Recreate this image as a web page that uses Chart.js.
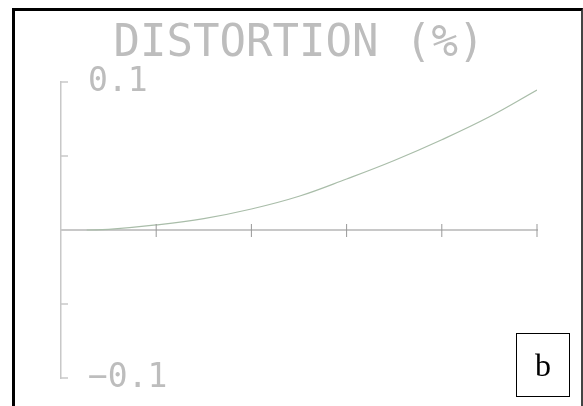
<!DOCTYPE html>
<html>
<head>
<meta charset="utf-8">
<script src="https://cdn.jsdelivr.net/npm/chart.js@4.4.1/dist/chart.umd.min.js"></script>
<style>
  html, body { margin: 0; padding: 0; background: #fff; overflow: hidden; }
  #wrap { position: relative; width: 583px; height: 406px; }
  #frame {
    position: absolute; left: 12px; top: 8px; width: 566px; height: 420px;
    border-left: 3px solid #000; border-top: 3px solid #000; border-right: 2px solid #444;
  }
  #tag {
    position: absolute; left: 516px; top: 333px; width: 52px; height: 62px;
    border: 1.5px solid #000; display: flex; align-items: center; justify-content: center;
    font-family: "Liberation Serif", "Times New Roman", serif; font-size: 32px; color: #000;
  }
  canvas { position: absolute; left: 0; top: 0; }
</style>
</head>
<body>
<div id="wrap">
  <canvas id="myChart" width="583" height="406"></canvas>
  <div id="frame"></div>
  <div id="tag">b</div>
</div>
<script>
// values
const xValues = [0.27, 0.5, 1, 1.5, 2, 2.5, 3, 3.5, 4, 4.5, 5];
const distortion = [0, 0.0004, 0.0034, 0.0077, 0.0142, 0.0228, 0.0345, 0.047, 0.061, 0.0765, 0.0946];
const yTickLabels = ["\u22120.1", "", "", "", "0.1"];
const titleText = "DISTORTION (%)";

const axisGray = "#c8c8c8";
const textGray = "#bdbdbd";
const monoFont = "'DejaVu Sans Mono', 'Liberation Mono', monospace";

// short tick marks: inside the y axis, crossing the x axis
const tickMarks = {
  id: "tickMarks",
  afterDraw(chart) {
    const ctx = chart.ctx;
    const xs = chart.scales.x, ys = chart.scales.y;
    const x0 = ys.right, y0 = ys.getPixelForValue(0);
    ctx.save();
    ctx.lineWidth = 1.5;
    ctx.strokeStyle = axisGray;
    ys.ticks.forEach(t => {
      const py = ys.getPixelForValue(t.value);
      ctx.beginPath();
      ctx.moveTo(x0, py);
      ctx.lineTo(x0 + 7, py);
      ctx.stroke();
    });
    ctx.lineWidth = 1;
    ctx.strokeStyle = "#999";
    xs.ticks.forEach(t => {
      if (t.value === 0) return;
      const px = xs.getPixelForValue(t.value);
      ctx.beginPath();
      ctx.moveTo(px, y0 - 6);
      ctx.lineTo(px, y0 + 7);
      ctx.stroke();
    });
    ctx.restore();
  }
};

new Chart(document.getElementById("myChart").getContext("2d"), {
  type: "line",
  data: {
    datasets: [{
      data: xValues.map((x, i) => ({ x: x, y: distortion[i] })),
      borderColor: "#a9bda9",
      borderWidth: 1.2,
      pointRadius: 0,
      tension: 0.4,
      fill: false
    }]
  },
  options: {
    responsive: false,
    animation: false,
    layout: { padding: { left: 61, right: 46, top: 10, bottom: 28 } },
    plugins: {
      legend: { display: false },
      tooltip: { enabled: false },
      title: {
        display: true,
        text: titleText,
        color: textGray,
        font: { family: monoFont, size: 44, weight: "normal", lineHeight: 1.2 },
        padding: { top: 8, bottom: 11.2 }
      }
    },
    scales: {
      x: {
        type: "linear",
        min: 0,
        max: 5,
        position: { y: 0 },
        ticks: { display: false, stepSize: 1 },
        grid: { display: false },
        border: { display: true, color: axisGray, width: 2 },
        afterFit(scale) { scale.height = 0; }
      },
      y: {
        min: -0.1,
        max: 0.1,
        ticks: {
          stepSize: 0.05,
          mirror: true,
          padding: 27,
          color: textGray,
          font: { family: monoFont, size: 33 },
          callback: (v, i) => yTickLabels[i]
        },
        grid: { display: false, drawTicks: false },
        border: { display: true, color: axisGray, width: 1.5 },
        afterFit(scale) {
          scale.width = 0;
          scale.paddingTop = 0;
          scale.paddingBottom = 0;
        }
      }
    }
  },
  plugins: [tickMarks]
});
</script>
</body>
</html>
